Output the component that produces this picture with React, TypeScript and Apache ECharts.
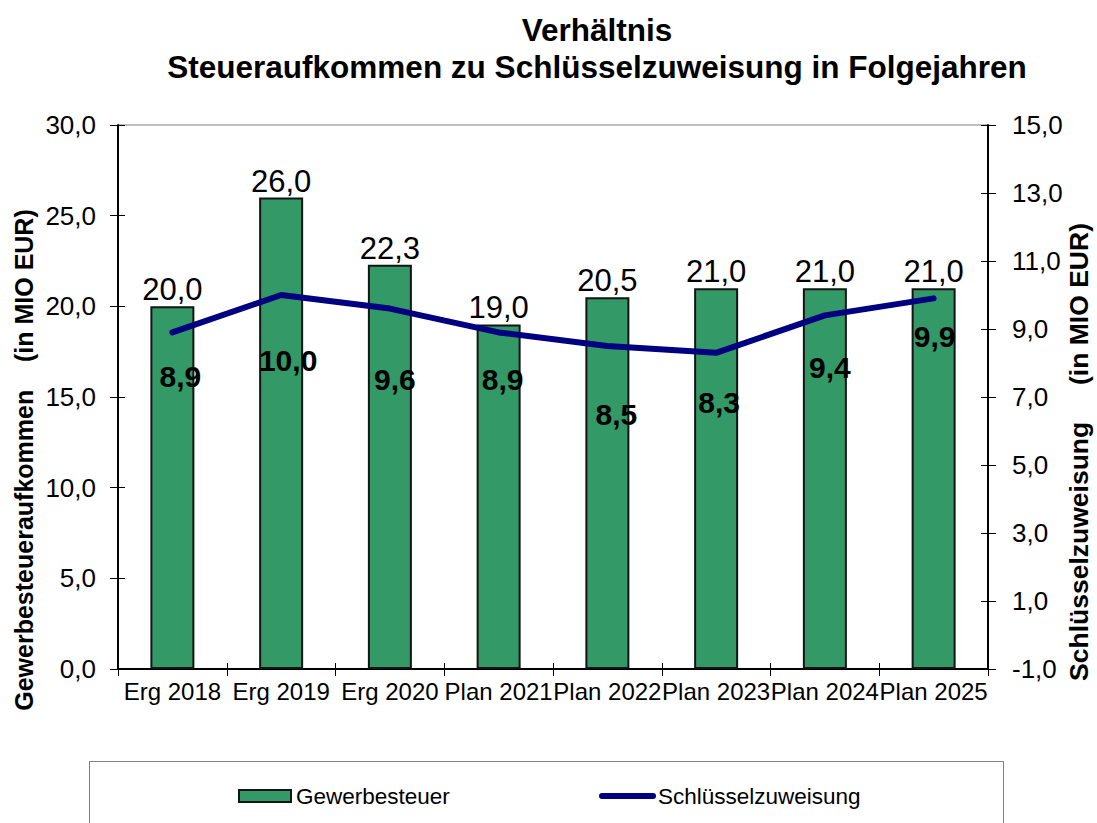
import React, { useEffect, useRef } from "react";
import * as echarts from "echarts";

const categories = ["Erg 2018", "Erg 2019", "Erg 2020", "Plan 2021", "Plan 2022", "Plan 2023", "Plan 2024", "Plan 2025"];
const gewerbesteuer = [20.0, 26.0, 22.3, 19.0, 20.5, 21.0, 21.0, 21.0];
const schluesselzuweisung = [8.9, 10.0, 9.6, 8.9, 8.5, 8.3, 9.4, 9.9];
const leftAxisTicks = { min: 0, max: 30, interval: 5 };
const rightAxisTicks = { min: -1, max: 15, interval: 2 };

// label placement (layout, not data)
const lineLabelOffsets: [number, number][] = [
  [8, 44], [7, 65], [5, 71], [4, 47], [9, 68], [3, 50], [5, 52], [1, 38],
];

const FONT = "'Liberation Sans', Arial, sans-serif";
const fmt = (v: number) => v.toFixed(1).replace(".", ",");

export default function App() {
  const ref = useRef<HTMLDivElement>(null);
  useEffect(() => {
    if (!ref.current) return;
    const chart = echarts.init(ref.current, undefined, { renderer: "svg" });
    const tickInside = { show: true, inside: true, length: 7, lineStyle: { color: "#000", width: 1 } };
    const hiddenCopy = {
      axisLine: { show: false, onZero: false },
      axisLabel: { show: false },
      splitLine: { show: false },
    };
    chart.setOption({
      animation: false,
      textStyle: { fontFamily: FONT },
      grid: {
        left: 118, right: 109, top: 125, bottom: 154,
        show: true, borderColor: "#808080", borderWidth: 1, backgroundColor: "transparent",
      },
      xAxis: [
        {
          type: "category",
          data: categories,
          axisLine: { onZero: false, lineStyle: { color: "#000", width: 2 } },
          axisTick: { show: true, length: 7, interval: 0, lineStyle: { color: "#000", width: 1 } },
          axisLabel: { interval: 0, color: "#000", fontSize: 24, fontFamily: FONT, margin: 10 },
          splitLine: { show: false },
        },
        {
          type: "category",
          data: categories,
          position: "bottom",
          axisTick: { ...tickInside, interval: 0, length: 6 },
          ...hiddenCopy,
        },
      ],
      yAxis: [
        {
          type: "value",
          position: "left",
          ...leftAxisTicks,
          axisLine: { show: true, lineStyle: { color: "#000", width: 2 } },
          axisTick: { show: true, length: 8, lineStyle: { color: "#000", width: 1 } },
          axisLabel: { color: "#000", fontSize: 26, fontFamily: FONT, margin: 22, formatter: fmt },
          splitLine: { show: false },
        },
        {
          type: "value",
          position: "right",
          ...rightAxisTicks,
          axisLine: { show: true, lineStyle: { color: "#000", width: 2 } },
          axisTick: { show: true, length: 8, lineStyle: { color: "#000", width: 1 } },
          axisLabel: { color: "#000", fontSize: 26, fontFamily: FONT, margin: 24, formatter: fmt },
          splitLine: { show: false },
        },
        { type: "value", position: "left", ...leftAxisTicks, axisTick: tickInside, ...hiddenCopy },
        { type: "value", position: "right", ...rightAxisTicks, axisTick: tickInside, ...hiddenCopy },
      ],
      series: [
        {
          name: "Gewerbesteuer",
          type: "bar",
          data: gewerbesteuer,
          barWidth: 44,
          itemStyle: { color: "#339966", borderColor: "#141414", borderWidth: 2 },
          label: {
            show: true, position: "top", distance: 1, color: "#000",
            fontSize: 31, fontFamily: FONT, formatter: (p: any) => fmt(p.value),
          },
          z: 2,
        },
        {
          name: "Schlüsselzuweisung",
          type: "line",
          yAxisIndex: 1,
          data: schluesselzuweisung.map((v, i) => ({ value: v, label: { offset: lineLabelOffsets[i] } })),
          symbol: "circle",
          symbolSize: 1,
          itemStyle: { color: "#000080" },
          lineStyle: { color: "#000080", width: 6, cap: "round", join: "round" },
          label: {
            show: true, position: "inside", color: "#000", fontSize: 30, fontWeight: "bold",
            fontFamily: FONT, formatter: (p: any) => fmt(p.value),
          },
          z: 3,
        },
      ],
      graphic: [
        {
          type: "text", x: 597, y: 30,
          style: { text: "Verhältnis", fontSize: 31.5, fontWeight: "bold", fontFamily: FONT, fill: "#000", textAlign: "center", textVerticalAlign: "middle" },
        },
        {
          type: "text", x: 597, y: 67,
          style: { text: "Steueraufkommen zu Schlüsselzuweisung in Folgejahren", fontSize: 31.5, fontWeight: "bold", fontFamily: FONT, fill: "#000", textAlign: "center", textVerticalAlign: "middle" },
        },
        {
          type: "text", x: 24, y: 460, rotation: Math.PI / 2,
          style: { text: "Gewerbesteueraufkommen    (in MIO EUR)", fontSize: 25, fontWeight: "bold", fontFamily: FONT, fill: "#000", textAlign: "center", textVerticalAlign: "middle" },
        },
        {
          type: "text", x: 1079, y: 452, rotation: Math.PI / 2,
          style: { text: "Schlüsselzuweisung     (in MIO EUR)", fontSize: 26.5, fontWeight: "bold", fontFamily: FONT, fill: "#000", textAlign: "center", textVerticalAlign: "middle" },
        },
        {
          type: "rect", shape: { x: 89.5, y: 761.5, width: 914, height: 80 },
          style: { fill: "none", stroke: "#808080", lineWidth: 1 },
        },
        {
          type: "rect", shape: { x: 239, y: 790, width: 52, height: 12 },
          style: { fill: "#339966", stroke: "#141414", lineWidth: 2 },
        },
        {
          type: "text", x: 296, y: 796,
          style: { text: "Gewerbesteuer", fontSize: 22.5, fontFamily: FONT, fill: "#000", textAlign: "left", textVerticalAlign: "middle" },
        },
        {
          type: "line", shape: { x1: 602, y1: 796, x2: 653, y2: 796 },
          style: { stroke: "#000080", lineWidth: 6, lineCap: "round" },
        },
        {
          type: "text", x: 658, y: 796,
          style: { text: "Schlüsselzuweisung", fontSize: 22.5, fontFamily: FONT, fill: "#000", textAlign: "left", textVerticalAlign: "middle" },
        },
      ],
    });
    return () => chart.dispose();
  }, []);
  return <div ref={ref} style={{ position: "absolute", left: 0, top: 0, width: 1097, height: 823 }} />;
}
